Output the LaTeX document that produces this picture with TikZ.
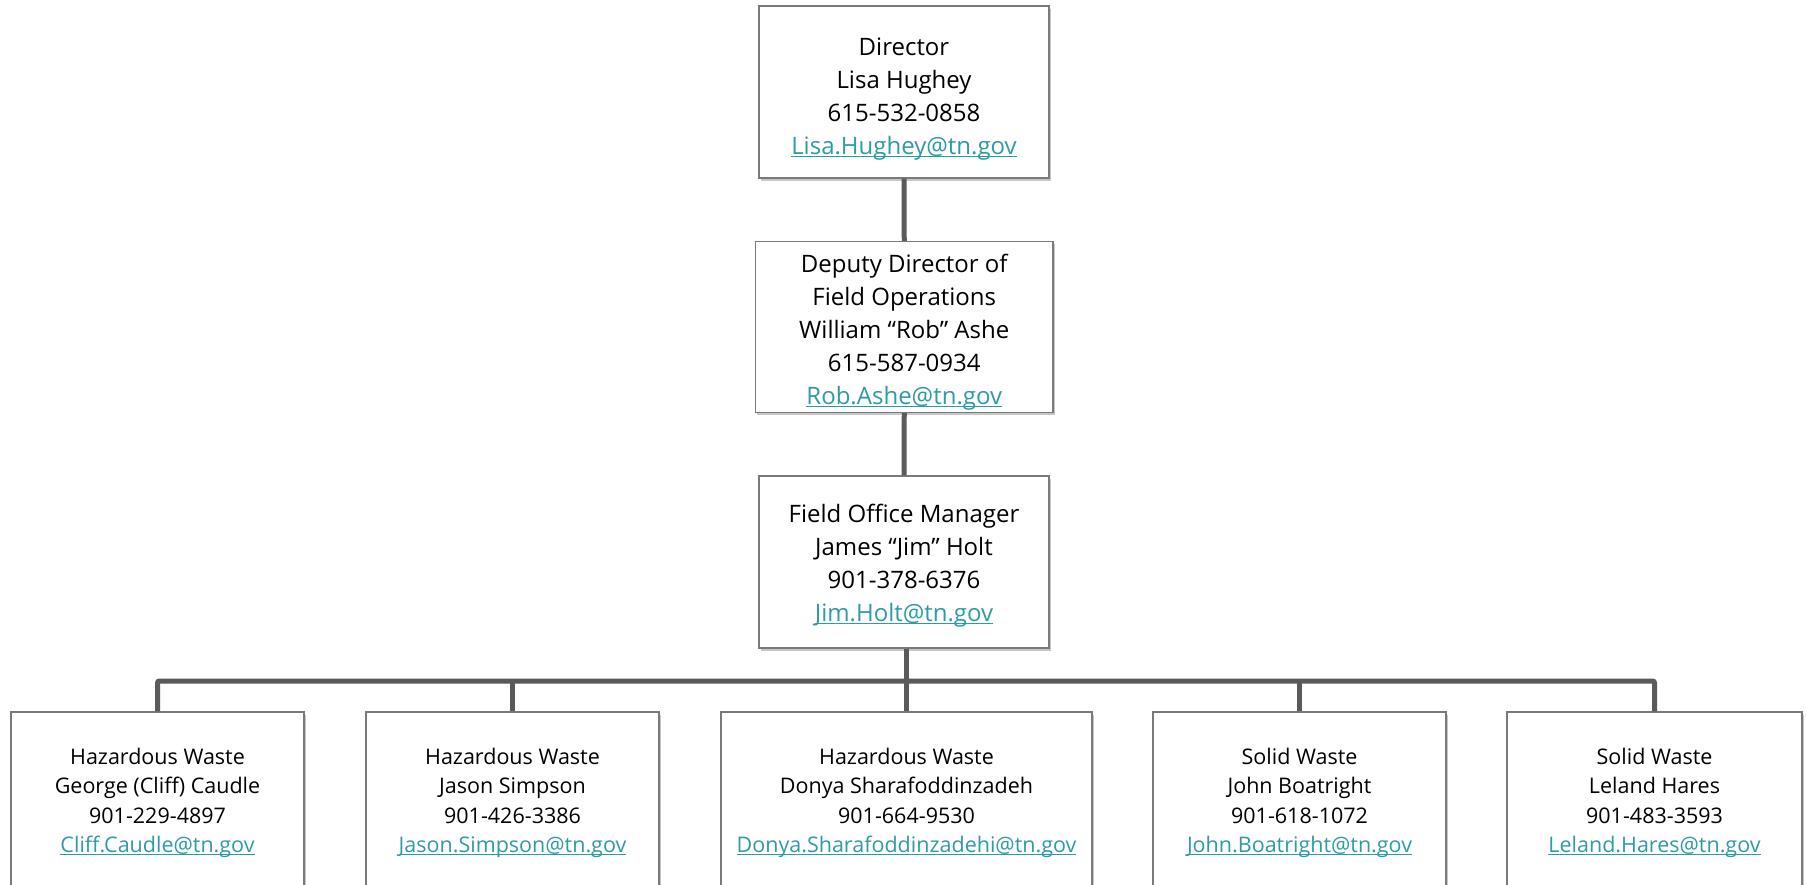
\documentclass[tikz,border=0pt]{standalone}
\usepackage{fontspec}
\setmainfont{Open Sans}
\usetikzlibrary{shadows}
\definecolor{linkc}{HTML}{2E9CA6}
\definecolor{connc}{HTML}{5A5A5A}
\definecolor{boxc}{HTML}{7A7A7A}
\newcommand\eml[1]{{\color{linkc}\setbox0=\hbox{#1}\rlap{\rule[-2.6pt]{\wd0}{1.3pt}}\box0}}
\tikzset{
  orgbox/.style={draw=boxc, line width=1.3pt, fill=white, inner sep=0pt,
    drop shadow={shadow xshift=1.5pt, shadow yshift=-2.5pt, opacity=0.22, fill=black}},
  lowbox/.style={orgbox, minimum height=178pt},
  toptext/.style={align=center, inner sep=0pt, font=\fontsize{24}{33}\selectfont},
  lowtext/.style={align=center, inner sep=0pt, font=\fontsize{21.5}{29.5}\selectfont},
  conn/.style={draw=connc, line width=5pt, rounded corners=2pt}
}
\begin{document}
\begin{tikzpicture}[x=1pt,y=-1pt]
\path[use as bounding box] (0,0) rectangle (1806,884);
\clip (0,0) rectangle (1806,884);
\fill[white] (0,0) rectangle (1806,884);

\coordinate (bus) at (906,681);

% boxes
\node[orgbox, minimum width=290pt, minimum height=172pt] (dir) at (904,92) {};
\node[orgbox, minimum width=297.5pt, minimum height=171pt] (dep) at (904.25,327) {};
\node[orgbox, minimum width=290pt, minimum height=172pt] (fom) at (904,562) {};
\node[lowbox, minimum width=293pt] (b1) at (157.5,801) {};
\node[lowbox, minimum width=293pt] (b2) at (512.5,801) {};
\node[lowbox, minimum width=371pt] (b3) at (906.5,801) {};
\node[lowbox, minimum width=293pt] (b4) at (1299.5,801) {};
\node[lowbox, minimum width=295pt] (b5) at (1654.5,801) {};

% texts
\node[toptext] (dirt) at ([yshift=-7pt]dir.center)
  {Director\\Lisa Hughey\\615-532-0858\\\eml{Lisa.Hughey@tn.gov}};
\node[toptext] (dept) at ([yshift=-5pt]dep.center)
  {Deputy Director of\\Field Operations\\William “Rob” Ashe\\615-587-0934\\\eml{Rob.Ashe@tn.gov}};
\node[toptext] (fomt) at ([yshift=-4pt]fom.center)
  {Field Office Manager\\James “Jim” Holt\\901-378-6376\\\eml{Jim.Holt@tn.gov}};
\node[lowtext] (b1t) at ([yshift=-2pt]b1.center)
  {Hazardous Waste\\George (Cliff) Caudle\\901-229-4897\\\eml{Cliff.Caudle@tn.gov}};
\node[lowtext] (b2t) at ([yshift=-2pt]b2.center)
  {Hazardous Waste\\Jason Simpson\\901-426-3386\\\eml{Jason.Simpson@tn.gov}};
\node[lowtext] (b3t) at ([yshift=-2pt]b3.center)
  {Hazardous Waste\\Donya Sharafoddinzadeh\\901-664-9530\\\eml{Donya.Sharafoddinzadehi@tn.gov}};
\node[lowtext] (b4t) at ([yshift=-2pt]b4.center)
  {Solid Waste\\John Boatright\\901-618-1072\\\eml{John.Boatright@tn.gov}};
\node[lowtext] (b5t) at ([yshift=-2pt]b5.center)
  {Solid Waste\\Leland Hares\\901-483-3593\\\eml{Leland.Hares@tn.gov}};

% connectors
\draw[conn] (dir.south) -- (dep.north);
\draw[conn] (dep.south) -- (fom.north);
\draw[conn] (fom.south -| bus) -- (bus);
\draw[conn] (b1.north) |- (bus) -| (b5.north);
\draw[conn] (b2.north) -- (b2.north |- bus);
\draw[conn] (b3.north) -- (b3.north |- bus);
\draw[conn] (b4.north) -- (b4.north |- bus);
\end{tikzpicture}
\end{document}
